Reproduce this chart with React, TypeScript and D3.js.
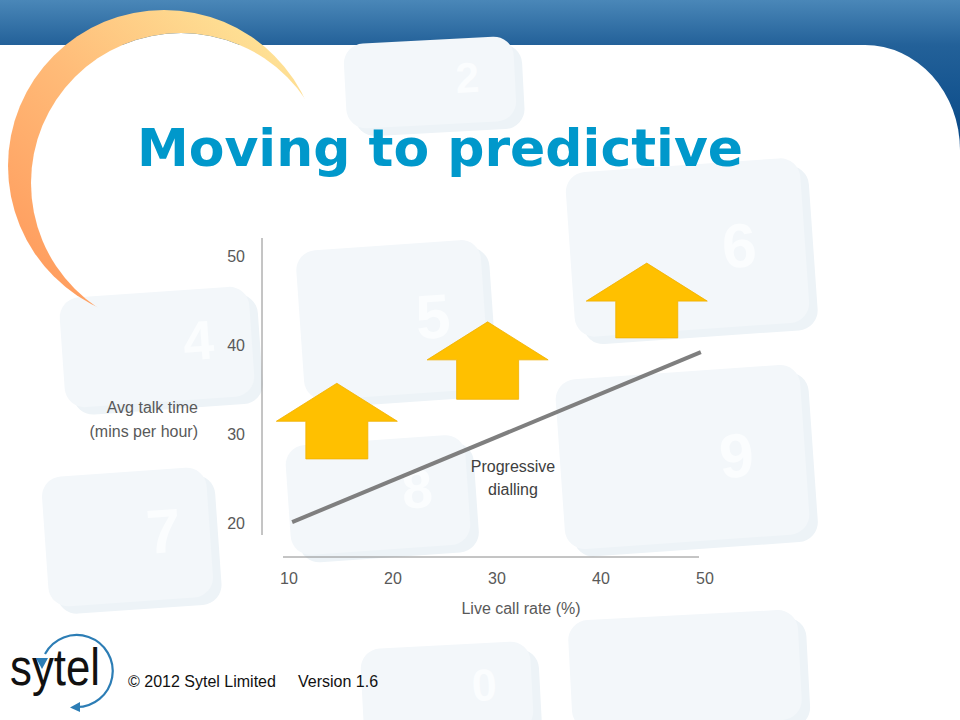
import React from "react";
import * as d3 from "d3";

// ---- data ----
const xTicks = [10, 20, 30, 40, 50];
const yTicks = [20, 30, 40, 50];
const lineX = [10.3, 49.6];
const lineY = [20.1, 39.2];
const arrowX = [14.6, 29.1, 44.4];
const arrowBase = [27.2, 33.9, 40.8];
const arrowTip = [35.7, 42.6, 49.2];
const title = "Moving to predictive";
const yLabel = ["Avg talk time", "(mins per hour)"];
const xLabel = "Live call rate (%)";
const lineLabel = ["Progressive", "dialling"];
const footer = ["© 2012 Sytel Limited", "Version 1.6"];

// background keypad keys (decorative)
const keys = [
  { x: 345, y: 40, w: 170, h: 85, r: -3, d: "2" },
  { x: 300, y: 245, w: 185, h: 150, r: -4, d: "5" },
  { x: 570, y: 165, w: 235, h: 165, r: -4, d: "6" },
  { x: 62, y: 292, w: 190, h: 110, r: -4, d: "4" },
  { x: 288, y: 440, w: 180, h: 110, r: -4, d: "8" },
  { x: 45, y: 472, w: 165, h: 130, r: -4, d: "7" },
  { x: 560, y: 372, w: 245, h: 170, r: -4, d: "9" },
  { x: 362, y: 645, w: 170, h: 90, r: -3, d: "0" },
  { x: 570, y: 615, w: 230, h: 110, r: -3, d: "" },
];

const W = 960;
const H = 720;

export default function App() {
  const x = d3.scaleLinear().domain([10, 50]).range([289, 705]);
  const y = d3.scaleLinear().domain([20, 50]).range([523, 256]);
  const line = d3
    .line<number>()
    .x((_, i) => x(lineX[i]))
    .y((d) => y(d));

  const axisColor = "#8a8a8a";
  const tickColor = "#595959";
  const font = "'Liberation Sans', Arial, sans-serif";

  const arrowW = 121;
  const shaftW = 62;
  const headH = 38;

  const arrowPath = (i: number) => {
    const cx = x(arrowX[i]);
    const tip = y(arrowTip[i]);
    const base = y(arrowBase[i]);
    const hb = tip + headH;
    return (
      [
        [cx, tip],
        [cx + arrowW / 2, hb],
        [cx + shaftW / 2, hb],
        [cx + shaftW / 2, base],
        [cx - shaftW / 2, base],
        [cx - shaftW / 2, hb],
        [cx - arrowW / 2, hb],
      ]
        .map((p, k) => (k === 0 ? "M" : "L") + p[0] + "," + p[1])
        .join("") + "Z"
    );
  };

  const outer = { cx: 164, cy: 166, r: 156 };
  const inner = { cx: 181, cy: 183, r: 150 };

  return (
    <svg
      width={W}
      height={H}
      viewBox={`0 0 ${W} ${H}`}
      style={{ position: "absolute", left: 0, top: 0 }}
    >
      <defs>
        <linearGradient id="hdr2" x1="0" y1="0" x2="0" y2="150" gradientUnits="userSpaceOnUse">
          <stop offset="0" stopColor="#4a87b8" />
          <stop offset="0.3" stopColor="#236199" />
          <stop offset="1" stopColor="#064786" />
        </linearGradient>
        <linearGradient id="arc" x1="290" y1="40" x2="40" y2="300" gradientUnits="userSpaceOnUse">
          <stop offset="0" stopColor="#fee598" />
          <stop offset="0.5" stopColor="#ffbb78" />
          <stop offset="1" stopColor="#ff9a5c" />
        </linearGradient>
        <mask id="crescent">
          <circle cx={outer.cx} cy={outer.cy} r={outer.r} fill="#fff" />
          <circle cx={inner.cx} cy={inner.cy} r={inner.r} fill="#000" />
        </mask>
        <clipPath id="topband">
          <rect x={0} y={0} width={W} height={46} />
        </clipPath>
      </defs>

      {/* header */}
      <rect x={0} y={0} width={W} height={160} fill="url(#hdr2)" />
      <path d="M0,45 H865 A95,105 0 0 1 960,150 V720 H0 Z" fill="#ffffff" />

      {/* background keypad */}
      {keys.map((k, i) => (
        <g key={i} transform={`rotate(${k.r} ${k.x + k.w / 2} ${k.y + k.h / 2})`}>
          <rect x={k.x + 8} y={k.y + 8} width={k.w} height={k.h} rx={20} fill="#edf3f7" />
          <rect x={k.x} y={k.y} width={k.w} height={k.h} rx={20} fill="#f3f7fa" />
          {k.d && (
            <text
              x={k.x + k.w * 0.72}
              y={k.y + k.h * 0.64}
              fontFamily={font}
              fontWeight="bold"
              fontSize={Math.min(k.h * 0.5, 62)}
              fill="#fbfdfe"
              textAnchor="middle"
            >
              {k.d}
            </text>
          )}
        </g>
      ))}

      {/* white inside of arc on the band + crescent */}
      <circle cx={inner.cx} cy={inner.cy} r={inner.r} fill="#ffffff" clipPath="url(#topband)" />
      <rect x={0} y={0} width={340} height={320} fill="url(#arc)" mask="url(#crescent)" />

      {/* title */}
      <text
        x={137}
        y={166}
        fontFamily="'DejaVu Sans', Verdana, sans-serif"
        fontWeight="bold"
        fontSize={52}
        fill="#0098cb"
      >
        {title}
      </text>

      {/* axes */}
      <line x1={262} x2={262} y1={238} y2={535} stroke={axisColor} strokeWidth={1} />
      <line x1={283} x2={699} y1={557} y2={557} stroke={axisColor} strokeWidth={1} />
      {yTicks.map((t) => (
        <text
          key={t}
          x={245}
          y={y(t) + 6}
          textAnchor="end"
          fontFamily={font}
          fontSize={16}
          fill={tickColor}
        >
          {t}
        </text>
      ))}
      {xTicks.map((t) => (
        <text
          key={t}
          x={x(t)}
          y={584}
          textAnchor="middle"
          fontFamily={font}
          fontSize={16}
          fill={tickColor}
        >
          {t}
        </text>
      ))}
      <text x={521} y={614} textAnchor="middle" fontFamily={font} fontSize={16} fill={tickColor}>
        {xLabel}
      </text>
      {yLabel.map((s, i) => (
        <text
          key={i}
          x={198}
          y={413 + i * 24}
          textAnchor="end"
          fontFamily={font}
          fontSize={16}
          fill={tickColor}
        >
          {s}
        </text>
      ))}

      {/* line */}
      <path d={line(lineY) || ""} stroke="#7f7f7f" strokeWidth={4} fill="none" />
      {lineLabel.map((s, i) => (
        <text
          key={i}
          x={513}
          y={472 + i * 23}
          textAnchor="middle"
          fontFamily={font}
          fontSize={16}
          fill="#404040"
        >
          {s}
        </text>
      ))}

      {/* arrows */}
      {arrowX.map((_, i) => (
        <path key={i} d={arrowPath(i)} fill="#ffc000" stroke="#f0b000" strokeWidth={0.8} />
      ))}

      {/* footer logo */}
      <path
        d="M45,654 A36,36 0 1 1 76,707"
        fill="none"
        stroke="#2c7db5"
        strokeWidth={2.2}
      />
      <path d="M36,658 L48,658 L42,669 Z" fill="#2c7db5" />
      <path d="M80,702 L80,712 L70,707.5 Z" fill="#2c7db5" />
      <text
        x={10}
        y={685}
        fontFamily={font}
        fontSize={52}
        textLength={90}
        lengthAdjust="spacingAndGlyphs"
        fill="#111111"
      >
        sytel
      </text>
      <text x={128} y={687} fontFamily={font} fontSize={16} fill="#111111">
        {footer[0]}
      </text>
      <text x={298} y={687} fontFamily={font} fontSize={16} fill="#111111">
        {footer[1]}
      </text>
    </svg>
  );
}
